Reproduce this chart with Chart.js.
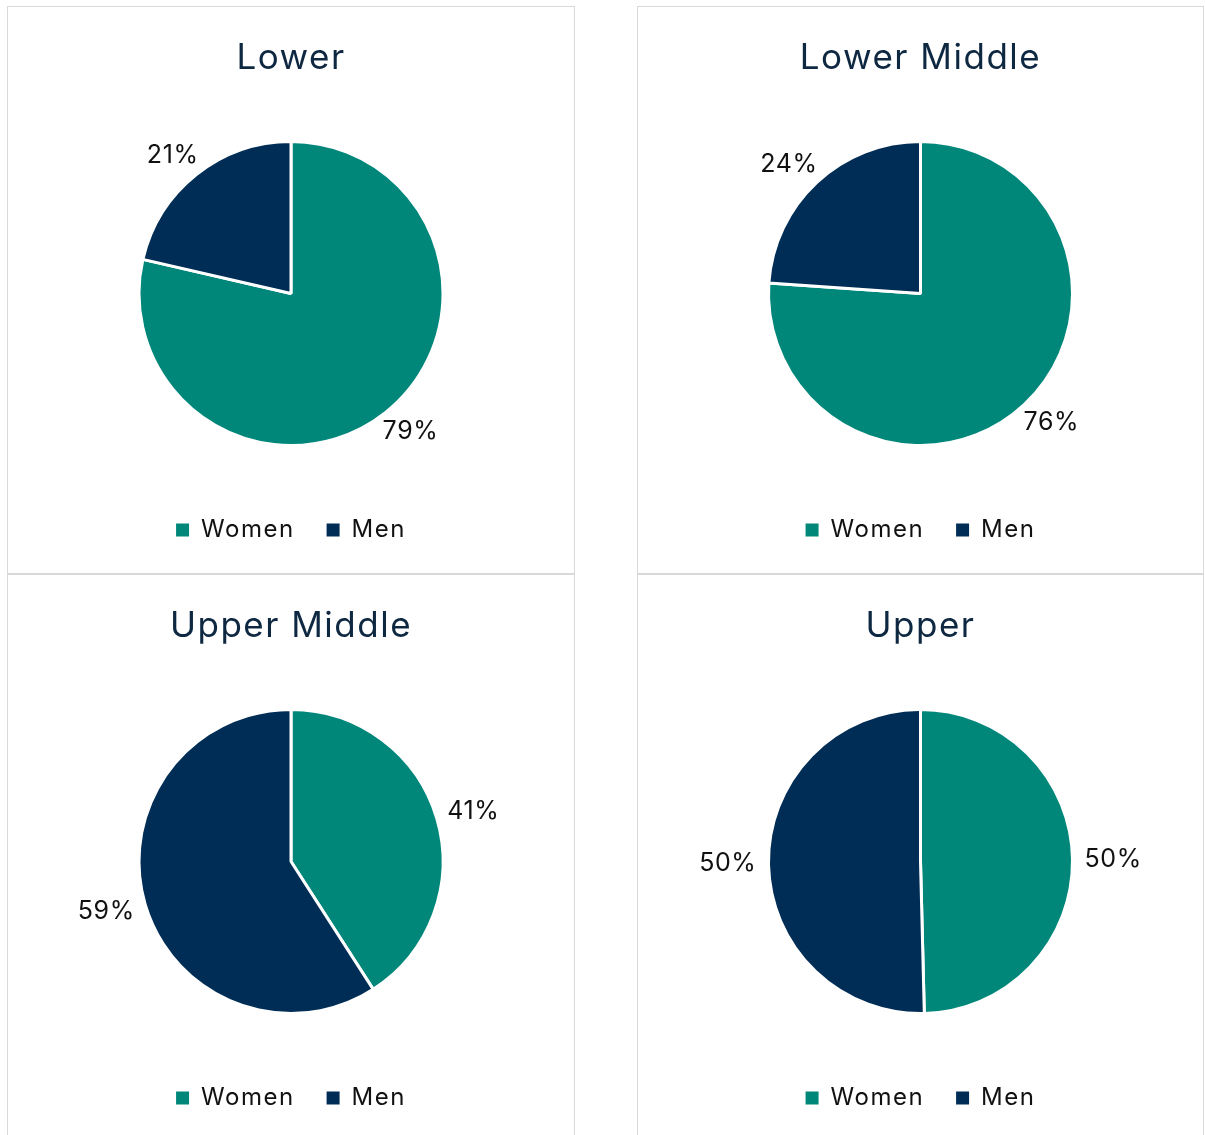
<!DOCTYPE html>
<html><head><meta charset="utf-8">
<script src="https://cdn.jsdelivr.net/npm/chart.js@4.4.0/dist/chart.umd.min.js"></script>
<style>
html,body{margin:0;padding:0;background:#fff;}
body{width:1205px;height:1135px;overflow:hidden;position:relative;}
.panel{position:absolute;box-sizing:border-box;border:1px solid #d9d9d9;width:568px;height:568px;background:#fff;}
.panel canvas{display:block;}
</style></head><body>
<div class="panel" style="left:7px;top:6px"><canvas id="c0" width="566" height="566"></canvas></div>
<div class="panel" style="left:637px;top:6px;width:567px"><canvas id="c1" width="565" height="566"></canvas></div>
<div class="panel" style="left:7px;top:574px"><canvas id="c2" width="566" height="566"></canvas></div>
<div class="panel" style="left:637px;top:574px;width:567px"><canvas id="c3" width="565" height="566"></canvas></div>
<script>
const categories = ['Women', 'Men'];
const chartTitles = ['Lower', 'Lower Middle', 'Upper Middle', 'Upper'];
const lowerValues = [78.6, 21.4];
const lowerMiddleValues = [76.1, 23.9];
const upperMiddleValues = [40.9, 59.1];
const upperValues = [49.6, 50.4];
const seriesColors = ['#00877A', '#002D56'];

const FONT = 'Inter, "Noto Sans", sans-serif';
const LS = '1.5px';

const spacing = {
  id: 'spacing',
  beforeLayout(chart) { chart.ctx.letterSpacing = LS; },
  beforeDraw(chart) { chart.ctx.letterSpacing = LS; }
};

const outsideLabels = {
  id: 'outsideLabels',
  afterDatasetsDraw(chart, args, opts) {
    const ctx = chart.ctx;
    const meta = chart.getDatasetMeta(0);
    const ds = chart.data.datasets[0];
    const total = ds.data.reduce((a, b) => a + b, 0);
    ctx.save();
    ctx.letterSpacing = '0.6px';
    ctx.font = opts.size + 'px ' + FONT;
    ctx.fillStyle = opts.color;
    ctx.textAlign = 'center';
    ctx.textBaseline = 'middle';
    meta.data.forEach((arc, i) => {
      const p = arc.getProps(['x', 'y', 'startAngle', 'endAngle', 'outerRadius'], true);
      const mid = (p.startAngle + p.endAngle) / 2;
      const dx = Math.cos(mid), dy = Math.sin(mid);
      const text = Math.round(ds.data[i] / total * 100) + '%';
      const w = ctx.measureText(text).width;
      const r = p.outerRadius + opts.gap;
      ctx.fillText(text, p.x + dx * r + dx * w / 2, p.y + dy * r + dy * opts.size * 0.5);
    });
    ctx.restore();
  }
};

function makePie(id, title, values) {
  new Chart(document.getElementById(id), {
    type: 'pie',
    data: {
      labels: categories,
      datasets: [{
        data: values,
        backgroundColor: seriesColors,
        borderColor: '#ffffff',
        borderWidth: 3,
        radius: 152
      }]
    },
    options: {
      responsive: false,
      animation: false,
      devicePixelRatio: 1,
      events: [],
      layout: { autoPadding: false, padding: { bottom: 21 } },
      plugins: {
        title: {
          display: true, text: title, color: '#0E2841',
          font: { family: FONT, size: 35, weight: 'normal' },
          padding: { top: 30, bottom: 22 }
        },
        legend: {
          position: 'bottom',
          labels: {
            boxWidth: 13, boxHeight: 13, padding: 32, color: '#111111',
            font: { family: FONT, size: 24 },
            generateLabels(chart) {
              const items = Chart.controllers.pie.overrides.plugins.legend.labels.generateLabels(chart);
              items.forEach(it => { it.lineWidth = 0; it.strokeStyle = 'rgba(0,0,0,0)'; });
              return items;
            }
          }
        },
        tooltip: { enabled: false },
        outsideLabels: { size: 25, color: '#111111', gap: 12 }
      }
    },
    plugins: [spacing, outsideLabels]
  });
}

makePie('c0', chartTitles[0], lowerValues);
makePie('c1', chartTitles[1], lowerMiddleValues);
makePie('c2', chartTitles[2], upperMiddleValues);
makePie('c3', chartTitles[3], upperValues);
</script>
</body></html>
